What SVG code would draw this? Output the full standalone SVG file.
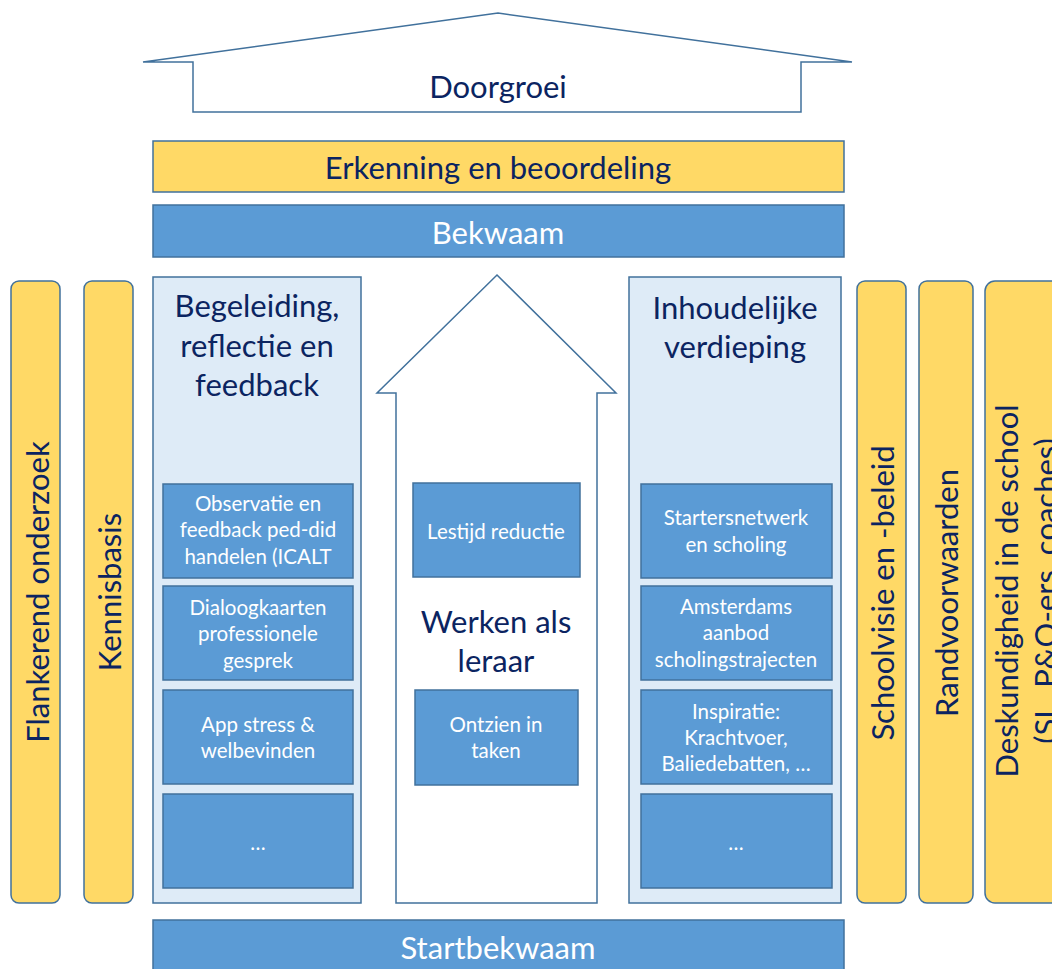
<svg xmlns="http://www.w3.org/2000/svg" width="1052" height="969" viewBox="0 0 1052 969">
<style>
text{font-family:Lato,"Liberation Sans",sans-serif;text-anchor:middle;dominant-baseline:central}
.big{font-size:31px;fill:#0B2461}
.bigw{font-size:31px;fill:#FFFFFF}
.sm{font-size:20.5px;fill:#FFFFFF}
.y{fill:#FFD966;stroke:#41719C;stroke-width:1.5}
.b{fill:#5B9BD5;stroke:#41719C;stroke-width:1.5}
.l{fill:#DEEBF7;stroke:#41719C;stroke-width:1.5}
.w{fill:#FFFFFF;stroke:#41719C;stroke-width:1.5}
</style>
<g id="roof">
<polygon class="w" points="143,62 498,13 852,62 801,62 801,112 193,112 193,62"/>
<text class="big" x="498" y="86">Doorgroei</text>
</g>
<g id="erkenning">
<rect class="y" x="153" y="141" width="691" height="51"/>
<text class="big" x="498" y="167">Erkenning en beoordeling</text>
</g>
<g id="bekwaam">
<rect class="b" x="153" y="205" width="691" height="52"/>
<text class="bigw" x="498" y="232">Bekwaam</text>
</g>
<g id="flankerend">
<rect class="y" x="11" y="281" width="49" height="622" rx="8"/>
<text class="big" transform="translate(37,592) rotate(-90)">Flankerend onderzoek</text>
</g>
<g id="kennisbasis">
<rect class="y" x="84" y="281" width="49" height="622" rx="8"/>
<text class="big" transform="translate(109,592) rotate(-90)">Kennisbasis</text>
</g>
<g id="begeleiding">
<rect class="l" x="153" y="277" width="208" height="626"/>
<text class="big" x="257" y="305">Begeleiding,</text>
<text class="big" x="257" y="345">reflectie en</text>
<text class="big" x="257" y="384">feedback</text>
</g>
<g id="observatie">
<rect class="b" x="163" y="484" width="190" height="94"/>
<text class="sm" x="258" y="503">Observatie en</text>
<text class="sm" x="258" y="529">feedback ped-did</text>
<text class="sm" x="258" y="556">handelen (ICALT</text>
</g>
<g id="dialoog">
<rect class="b" x="163" y="586" width="190" height="94"/>
<text class="sm" x="258" y="607">Dialoogkaarten</text>
<text class="sm" x="258" y="633">professionele</text>
<text class="sm" x="258" y="660">gesprek</text>
</g>
<g id="app">
<rect class="b" x="163" y="690" width="190" height="94"/>
<text class="sm" x="258" y="724">App stress &amp;</text>
<text class="sm" x="258" y="750">welbevinden</text>
</g>
<g id="left-more">
<rect class="b" x="163" y="794" width="190" height="94"/>
<text class="sm" x="258" y="842">…</text>
</g>
<g id="werken">
<polygon class="w" points="497,275 616,393 597,393 597,903 396,903 396,393 377,393"/>
<text class="big" x="496" y="621">Werken als</text>
<text class="big" x="496" y="660">leraar</text>
</g>
<g id="lestijd">
<rect class="b" x="413" y="483" width="167" height="94"/>
<text class="sm" x="496" y="531">Lestijd reductie</text>
</g>
<g id="ontzien">
<rect class="b" x="415" y="690" width="163" height="95"/>
<text class="sm" x="496" y="724">Ontzien in</text>
<text class="sm" x="496" y="750">taken</text>
</g>
<g id="inhoudelijk">
<rect class="l" x="629" y="277" width="212" height="626"/>
<text class="big" x="735" y="307">Inhoudelijke</text>
<text class="big" x="735" y="346">verdieping</text>
</g>
<g id="starters">
<rect class="b" x="641" y="484" width="191" height="94"/>
<text class="sm" x="736" y="517">Startersnetwerk</text>
<text class="sm" x="736" y="544">en scholing</text>
</g>
<g id="amsterdams">
<rect class="b" x="641" y="586" width="191" height="94"/>
<text class="sm" x="736" y="606">Amsterdams</text>
<text class="sm" x="736" y="632">aanbod</text>
<text class="sm" x="736" y="659">scholingstrajecten</text>
</g>
<g id="inspiratie">
<rect class="b" x="641" y="690" width="191" height="94"/>
<text class="sm" x="736" y="711">Inspiratie:</text>
<text class="sm" x="736" y="737">Krachtvoer,</text>
<text class="sm" x="736" y="763">Baliedebatten, …</text>
</g>
<g id="right-more">
<rect class="b" x="641" y="794" width="191" height="94"/>
<text class="sm" x="736" y="842">…</text>
</g>
<g id="schoolvisie">
<rect class="y" x="857" y="281" width="49" height="622" rx="8"/>
<text class="big" transform="translate(882,593) rotate(-90)">Schoolvisie en -beleid</text>
</g>
<g id="randvoorwaarden">
<rect class="y" x="919" y="281" width="54" height="622" rx="8"/>
<text class="big" transform="translate(946,593) rotate(-90)">Randvoorwaarden</text>
</g>
<g id="deskundigheid">
<rect class="y" x="985" y="281" width="90" height="622" rx="10"/>
<text class="big" transform="translate(1006,591) rotate(-90)">Deskundigheid in de school</text>
<text class="big" transform="translate(1045,591) rotate(-90)">(SL, P&amp;O-ers, coaches)</text>
</g>
<g id="startbekwaam">
<rect class="b" x="153" y="920" width="691" height="60"/>
<text class="bigw" x="498" y="947">Startbekwaam</text>
</g>
<g id="connectors"></g>
</svg>
